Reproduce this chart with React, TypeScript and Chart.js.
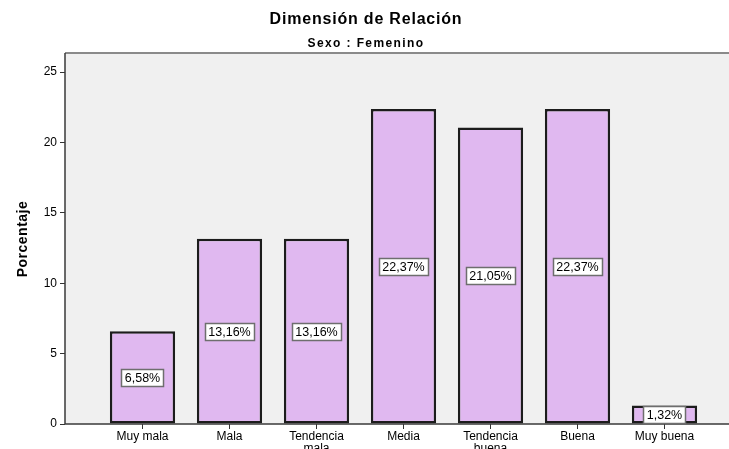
import React, { useEffect, useRef } from "react";
import { Chart, registerables } from "chart.js";

Chart.register(...registerables);

const categories: string[][] = [
  ["Muy mala"],
  ["Mala"],
  ["Tendencia", "mala"],
  ["Media"],
  ["Tendencia", "buena"],
  ["Buena"],
  ["Muy buena"],
];
const percentages: number[] = [6.58, 13.16, 13.16, 22.37, 21.05, 22.37, 1.32];
const yTicks: number[] = [0, 5, 10, 15, 20, 25];
const chartTitle = "Dimensión de Relación";
const chartSubtitle = "Sexo : Femenino";
const yAxisTitle = "Porcentaje";

const FONT = "Arial, 'Liberation Sans', sans-serif";

const spssPlugin = {
  id: "spssPlugin",
  beforeDraw(chart: any) {
    const { ctx, chartArea } = chart;
    ctx.save();
    ctx.fillStyle = "#ffffff";
    ctx.fillRect(0, 0, chart.width, chart.height);
    ctx.fillStyle = "#f0f0f0";
    ctx.fillRect(chartArea.left, chartArea.top, chartArea.right - chartArea.left, chartArea.bottom - chartArea.top);
    ctx.restore();
  },
  afterDatasetsDraw(chart: any) {
    const { ctx, chartArea } = chart;
    const yScale = chart.scales.y;
    const meta = chart.getDatasetMeta(0);
    ctx.save();
    // frame
    ctx.strokeStyle = "#8a8a8a";
    ctx.lineWidth = 2;
    ctx.beginPath();
    ctx.moveTo(chartArea.left, chartArea.top);
    ctx.lineTo(chartArea.right, chartArea.top);
    ctx.stroke();
    ctx.strokeStyle = "#3a3a3a";
    ctx.lineWidth = 1.5;
    ctx.beginPath();
    ctx.moveTo(chartArea.left, chartArea.top);
    ctx.lineTo(chartArea.left, chartArea.bottom);
    ctx.lineTo(chartArea.right, chartArea.bottom);
    ctx.stroke();
    // data labels
    ctx.font = `12.5px ${FONT}`;
    ctx.textAlign = "center";
    ctx.textBaseline = "middle";
    meta.data.forEach((bar: any, i: number) => {
      const v = percentages[i];
      const text = v.toFixed(2).replace(".", ",") + "%";
      const w = Math.round(ctx.measureText(text).width + 7);
      const h = 17;
      const cx = bar.x;
      const cy = yScale.getPixelForValue(v / 2);
      const left = Math.round(cx - w / 2);
      const top = Math.round(cy - h / 2);
      ctx.fillStyle = "#ffffff";
      ctx.fillRect(left, top, w, h);
      ctx.strokeStyle = "#6e6e6e";
      ctx.lineWidth = 1.5;
      ctx.strokeRect(left + 0.5, top + 0.5, w, h);
      ctx.fillStyle = "#000000";
      ctx.fillText(text, cx, cy + 1);
    });
    ctx.restore();
  },
  afterDraw(chart: any) {
    const { ctx } = chart;
    ctx.save();
    ctx.fillStyle = "#000000";
    ctx.textAlign = "center";
    ctx.textBaseline = "middle";
    ctx.font = `bold 16px ${FONT}`;
    (ctx as any).letterSpacing = "0.8px";
    ctx.fillText(chartTitle, 366, 20);
    ctx.font = `bold 12px ${FONT}`;
    (ctx as any).letterSpacing = "1.4px";
    ctx.fillText(chartSubtitle, 366, 44);
    (ctx as any).letterSpacing = "0.5px";
    ctx.translate(23, 239);
    ctx.rotate(-Math.PI / 2);
    ctx.font = `bold 14px ${FONT}`;
    ctx.fillText(yAxisTitle, 0, 0);
    ctx.restore();
  },
};

export default function App() {
  const canvasRef = useRef<HTMLCanvasElement | null>(null);

  useEffect(() => {
    const canvas = canvasRef.current;
    if (!canvas) return;
    Chart.defaults.font.family = FONT;
    const chart = new Chart(canvas, {
      type: "bar",
      data: {
        datasets: [
          {
            data: percentages.map((v, i) => ({ x: i, y: v })),
            backgroundColor: "#e0b8f0",
            borderColor: "#1c1c1c",
            borderWidth: 2.5,
            borderSkipped: false,
            barPercentage: 0.75,
            categoryPercentage: 1,
          } as any,
        ],
      },
      options: {
        responsive: false,
        animation: false,
        devicePixelRatio: 1,
        layout: { padding: { top: 53, left: 0, right: 0, bottom: 0 } },
        plugins: {
          legend: { display: false },
          tooltip: { enabled: false },
          title: { display: false },
        },
        scales: {
          x: {
            type: "linear",
            offset: false,
            min: -0.8908,
            max: 6.7414,
            afterBuildTicks: (scale: any) => {
              scale.ticks = categories.map((_, i) => ({ value: i }));
            },
            afterFit: (scale: any) => {
              scale.height = 25;
            },
            grid: { display: true, offset: false, drawOnChartArea: false, drawTicks: true, tickLength: 5, color: "#333333" },
            border: { display: false },
            ticks: {
              autoSkip: false,
              maxRotation: 0,
              padding: 2,
              color: "#000000",
              font: { size: 12, family: FONT, lineHeight: 1.0 },
              callback: (v: any) => categories[v] ?? "",
            },
          },
          y: {
            min: 0,
            max: 26.35,
            afterBuildTicks: (scale: any) => {
              scale.ticks = yTicks.map((v) => ({ value: v }));
            },
            afterFit: (scale: any) => {
              scale.width = 65;
            },
            grid: { display: true, drawOnChartArea: false, drawTicks: true, tickLength: 5, color: "#333333" },
            border: { display: false },
            ticks: {
              padding: 3,
              color: "#000000",
              font: { size: 12, family: FONT },
              callback: (v: any) => String(v),
            },
          },
        },
      },
      plugins: [spssPlugin],
    } as any);
    return () => chart.destroy();
  }, []);

  return (
    <div style={{ position: "fixed", left: 0, top: 0, width: 729, height: 449, overflow: "hidden", background: "#fff" }}>
      <canvas ref={canvasRef} width={729} height={449} style={{ width: 729, height: 449, display: "block" }} />
    </div>
  );
}
